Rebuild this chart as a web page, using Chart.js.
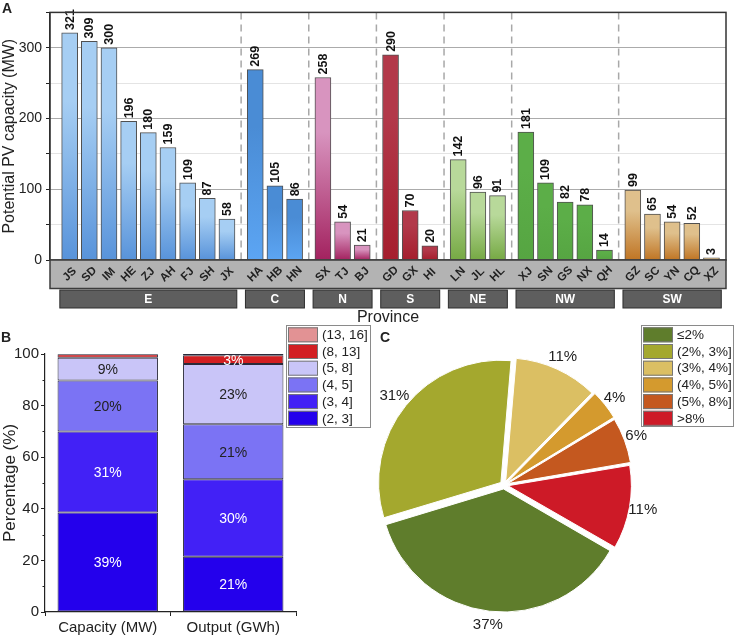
<!DOCTYPE html>
<html>
<head>
<meta charset="utf-8">
<script src="https://cdn.jsdelivr.net/npm/chart.js@4.4.0/dist/chart.umd.min.js"></script>
<style>
  html, body { margin: 0; padding: 0; background: #fff; }
  body { width: 736px; height: 635px; position: relative; overflow: hidden; }
  canvas { position: absolute; }
  #chartA { left: 0; top: 0; z-index: 2; }
  #chartB { left: 0; top: 320px; }
  #chartC { left: 372px; top: 320px; }
</style>
</head>
<body>
<canvas id="chartA" width="736" height="330"></canvas>
<canvas id="chartB" width="372" height="315"></canvas>
<canvas id="chartC" width="364" height="315"></canvas>
<script>
// ---- data ----
const provinces = ['JS','SD','IM','HE','ZJ','AH','FJ','SH','JX','HA','HB','HN','SX','TJ','BJ',
  'GD','GX','HI','LN','JL','HL','XJ','SN','GS','NX','QH','GZ','SC','YN','CQ','XZ'];
const capacityMW = [321,309,300,196,180,159,109,87,58,269,105,86,258,54,21,
  290,70,20,142,96,91,181,109,82,78,14,99,65,54,52,3];
const regions = ['E','C','N','S','NE','NW','SW'];
const regionSizes = [9,3,3,3,3,5,5];
const yTicksA = [0, 100, 200, 300];

const stackCategories = ['Capacity (MW)', 'Output (GWh)'];
const sizeBins = ['(2, 3]', '(3, 4]', '(4, 5]', '(5, 8]', '(8, 13]', '(13, 16]'];
const capacityShare = [38.6, 31.4, 19.7, 8.8, 1.4, 0.1];
const outputShare = [21.4, 30.1, 21.3, 23.3, 3.4, 0.5];
const yTicksB = [0, 20, 40, 60, 80, 100];

const pieBands = ['≤2%', '(2%, 3%]', '(3%, 4%]', '(4%, 5%]', '(5%, 8%]', '>8%'];
const pieShares = [37, 31, 11, 4, 6, 11];

// ---- styles ----
Chart.defaults.font.family = '"Liberation Sans", Arial, sans-serif';
Chart.defaults.color = '#222';
Chart.defaults.animation = false;

const regionGrad = [
  ['#a6cef3', '#5893da'],
  ['#4a8cd5', '#5ca5f3'],
  ['#d894bf', '#a3225f'],
  ['#b2394a', '#a51e2d'],
  ['#b8d99a', '#76a944'],
  ['#5cae48', '#56a542'],
  ['#dfc08c', '#c07524']
];
const binColors = ['#2400ec', '#4221f6', '#7b73f4', '#c9c5f8', '#d21f22', '#e29294'];
const binText = ['#fff', '#fff', '#222', '#222', '#fff', '#fff'];
const pieColors = ['#5f7d2c', '#a4a82e', '#dbbf63', '#d49a2e', '#c4581f', '#cd1a27'];
const PIE_OFFSET = 16; // chart.js moves a slice by offset/4

// region index per province, and x position with a gap between regions
const regionOf = [];
regionSizes.forEach((n, g) => { for (let k = 0; k < n; k++) regionOf.push(g); });
const GAP = 0.44;
const xPos = provinces.map((_, i) => i + regionOf[i] * GAP);

function legendBox(ctx, x, y, w, h, names, colors) {
  ctx.save();
  ctx.fillStyle = '#fff';
  ctx.fillRect(x, y, w, h);
  ctx.strokeStyle = '#8a8a8a';
  ctx.lineWidth = 1;
  ctx.strokeRect(x + 0.5, y + 0.5, w, h);
  ctx.font = '13.5px "Liberation Sans", Arial, sans-serif';
  ctx.textAlign = 'left';
  ctx.textBaseline = 'middle';
  names.forEach((name, k) => {
    const sy = y + 2.3 + k * 16.7;
    ctx.fillStyle = colors[k];
    ctx.fillRect(x + 2, sy, 30, 15);
    ctx.strokeStyle = '#777';
    ctx.strokeRect(x + 2.5, sy + 0.5, 29, 14);
    ctx.fillStyle = '#222';
    ctx.fillText(name, x + 36, sy + 8);
  });
  ctx.restore();
}

// ---- A: capacity by province ----
const panelA = {
  id: 'panelA',
  beforeDatasetsDraw(chart) {
    const { ctx, chartArea, scales } = chart;
    ctx.save();
    ctx.strokeStyle = '#a8a8a8';
    ctx.lineWidth = 1.5;
    ctx.setLineDash([7, 5]);
    let start = 0;
    regionSizes.slice(0, -1).forEach(n => {
      const last = start + n - 1;
      const x = scales.x.getPixelForValue((xPos[last] + xPos[last + 1]) / 2);
      ctx.beginPath();
      ctx.moveTo(x, chartArea.top);
      ctx.lineTo(x, chartArea.bottom);
      ctx.stroke();
      start += n;
    });
    ctx.restore();
  },
  afterDatasetsDraw(chart) {
    const { ctx, chartArea, scales } = chart;
    const bars = chart.getDatasetMeta(0).data;
    ctx.save();
    // value labels
    ctx.fillStyle = '#111';
    ctx.font = 'bold 12.5px "Liberation Sans", Arial, sans-serif';
    ctx.textAlign = 'left';
    ctx.textBaseline = 'middle';
    bars.forEach((el, i) => {
      ctx.save();
      ctx.translate(el.x + 0.5, el.y - 3);
      ctx.rotate(-Math.PI / 2);
      ctx.fillText(String(capacityMW[i]), 0, 0);
      ctx.restore();
    });
    // frame
    ctx.strokeStyle = '#333';
    ctx.lineWidth = 1.5;
    ctx.strokeRect(chartArea.left, chartArea.top, chartArea.right - chartArea.left, chartArea.bottom - chartArea.top);
    // axis band
    const bandTop = chartArea.bottom, bandH = 28.5;
    ctx.fillStyle = '#b3b3b3';
    ctx.fillRect(chartArea.left, bandTop, chartArea.right - chartArea.left, bandH);
    ctx.strokeStyle = '#3c3c3c';
    ctx.lineWidth = 1.5;
    ctx.strokeRect(chartArea.left, bandTop, chartArea.right - chartArea.left, bandH);
    ctx.fillStyle = '#222';
    ctx.font = 'bold 11.5px "Liberation Sans", Arial, sans-serif';
    ctx.textAlign = 'center';
    bars.forEach((el, i) => {
      ctx.save();
      ctx.translate(el.x, bandTop + bandH / 2);
      ctx.rotate(-Math.PI / 4);
      ctx.fillText(provinces[i], 0, 0);
      ctx.restore();
    });
    // region boxes
    let start = 0;
    ctx.font = 'bold 12px "Liberation Sans", Arial, sans-serif';
    regionSizes.forEach((n, g) => {
      const l = scales.x.getPixelForValue(xPos[start] - 0.5);
      const r = scales.x.getPixelForValue(xPos[start + n - 1] + 0.5);
      ctx.fillStyle = '#5e5e5e';
      ctx.fillRect(l, 290, r - l, 18);
      ctx.strokeStyle = '#2e2e2e';
      ctx.lineWidth = 1;
      ctx.strokeRect(l, 290, r - l, 18);
      ctx.fillStyle = '#fff';
      ctx.fillText(regions[g], (l + r) / 2, 299.5);
      start += n;
    });
    // titles
    ctx.fillStyle = '#222';
    ctx.font = '16px "Liberation Sans", Arial, sans-serif';
    ctx.fillText('Province', (chartArea.left + chartArea.right) / 2, 318);
    ctx.font = 'bold 14px "Liberation Sans", Arial, sans-serif';
    ctx.textAlign = 'left';
    ctx.textBaseline = 'top';
    ctx.fillText('A', 2, 2);
    ctx.restore();
  }
};

new Chart(document.getElementById('chartA'), {
  type: 'bar',
  data: {
    datasets: [{
      data: xPos.map((x, i) => ({ x: x, y: capacityMW[i] })),
      barThickness: 16,
      borderWidth: 1,
      borderColor: '#505050',
      backgroundColor: (c) => {
        const chart = c.chart;
        const g = regionGrad[regionOf[c.dataIndex]] || regionGrad[0];
        if (!chart.chartArea || c.type !== 'data') return g[1];
        const yTop = chart.scales.y.getPixelForValue(c.raw.y);
        const yBot = chart.scales.y.getPixelForValue(0);
        const grad = chart.ctx.createLinearGradient(0, yTop, 0, yBot);
        grad.addColorStop(0, g[0]);
        grad.addColorStop(0.3, g[0]);
        grad.addColorStop(1, g[1]);
        return grad;
      }
    }]
  },
  options: {
    responsive: false,
    layout: { padding: { top: 3, right: 10, bottom: 70, left: 0 } },
    plugins: { legend: { display: false }, tooltip: { enabled: false } },
    scales: {
      x: { type: 'linear', display: false, min: -1, max: xPos[xPos.length - 1] + 0.74, offset: false },
      y: {
        min: 0, max: 350,
        ticks: {
          stepSize: 50, padding: 4, font: { size: 14 }, color: '#222',
          callback: v => (yTicksA.includes(v) ? v : '')
        },
        grid: {
          color: c => (c.tick && c.tick.value % 100 === 0 ? '#ababab' : '#e4e4e4'),
          tickColor: '#222', tickLength: 4
        },
        border: { color: '#222', width: 1.2 },
        title: { display: true, text: 'Potential PV capacity (MW)', font: { size: 16 }, color: '#222', padding: { top: 0, bottom: 0 } },
        afterFit: s => { s.width = 50; }
      }
    }
  },
  plugins: [panelA]
});

// ---- B: stacked shares ----
const panelB = {
  id: 'panelB',
  afterDatasetsDraw(chart) {
    const { ctx, scales, chartArea } = chart;
    ctx.save();
    ctx.font = '14px "Liberation Sans", Arial, sans-serif';
    ctx.textAlign = 'center';
    ctx.textBaseline = 'middle';
    chart.data.datasets.forEach((ds, i) => {
      chart.getDatasetMeta(i).data.forEach((el, j) => {
        const v = ds.data[j];
        if (v < 2.5) return;
        ctx.fillStyle = binText[i];
        ctx.fillText(Math.round(v) + '%', el.x, (el.y + el.base) / 2 + 1);
      });
    });
    // minor ticks
    ctx.strokeStyle = '#222';
    ctx.lineWidth = 1;
    [10, 30, 50, 70, 90].forEach(v => {
      const y = Math.round(scales.y.getPixelForValue(v)) + 0.5;
      ctx.beginPath();
      ctx.moveTo(chartArea.left - 2.5, y);
      ctx.lineTo(chartArea.left, y);
      ctx.stroke();
    });
    ctx.restore();
  },
  afterDraw(chart) {
    const ctx = chart.ctx;
    legendBox(ctx, 286, 5, 84, 102, sizeBins.slice().reverse(), binColors.slice().reverse());
    ctx.save();
    ctx.fillStyle = '#222';
    ctx.font = 'bold 14px "Liberation Sans", Arial, sans-serif';
    ctx.textBaseline = 'top';
    ctx.fillText('B', 1, 11);
    ctx.restore();
  }
};

const shareSeries = sizeBins.map((_, i) => [capacityShare[i], outputShare[i]]);

new Chart(document.getElementById('chartB'), {
  type: 'bar',
  data: {
    labels: stackCategories,
    datasets: sizeBins.map((name, i) => ({
      label: name,
      data: shareSeries[i],
      backgroundColor: binColors[i],
      borderColor: '#2a2a3a',
      borderWidth: 1,
      borderSkipped: false,
      barPercentage: 0.8,
      categoryPercentage: 1.0
    }))
  },
  options: {
    responsive: false,
    layout: { padding: { top: 34, right: 76, bottom: 0, left: 0 } },
    plugins: { legend: { display: false }, tooltip: { enabled: false } },
    scales: {
      x: {
        stacked: true,
        ticks: { font: { size: 15 }, color: '#222', padding: 3 },
        grid: { drawOnChartArea: false, color: '#222', tickLength: 4 },
        border: { color: '#222', width: 1.2 },
        afterFit: s => { s.height = 23; }
      },
      y: {
        stacked: true, min: 0, max: 100,
        ticks: { stepSize: 20, font: { size: 15 }, color: '#222', padding: 2,
          callback: v => (yTicksB.includes(v) ? v : '') },
        grid: { drawOnChartArea: false, color: '#222', tickLength: 4 },
        border: { color: '#222', width: 1.2 },
        title: { display: true, text: 'Percentage (%)', font: { size: 17 }, color: '#222', padding: { top: 0, bottom: 0 } },
        afterFit: s => { s.width = 45; }
      }
    }
  },
  plugins: [panelB]
});

// ---- C: pie ----
const panelC = {
  id: 'panelC',
  afterDatasetsDraw(chart) {
    const { ctx } = chart;
    ctx.save();
    ctx.fillStyle = '#222';
    ctx.font = '15px "Liberation Sans", Arial, sans-serif';
    ctx.textAlign = 'center';
    ctx.textBaseline = 'middle';
    chart.getDatasetMeta(0).data.forEach((arc, i) => {
      const p = arc.getProps(['x', 'y', 'startAngle', 'endAngle', 'outerRadius'], true);
      const mid = (p.startAngle + p.endAngle) / 2;
      const r = p.outerRadius + arc.options.offset / 4 + 15;
      ctx.fillText(pieShares[i] + '%', p.x + Math.cos(mid) * r, p.y + Math.sin(mid) * r);
    });
    ctx.restore();
  },
  afterDraw(chart) {
    const ctx = chart.ctx;
    legendBox(ctx, 269, 5, 92, 101, pieBands, pieColors);
    ctx.save();
    ctx.fillStyle = '#222';
    ctx.font = 'bold 14px "Liberation Sans", Arial, sans-serif';
    ctx.textBaseline = 'top';
    ctx.fillText('C', 8, 11);
    ctx.restore();
  }
};

new Chart(document.getElementById('chartC'), {
  type: 'pie',
  data: {
    labels: pieBands,
    datasets: [{
      data: pieShares,
      backgroundColor: pieColors,
      borderColor: '#ffffff',
      borderWidth: 1,
      offset: PIE_OFFSET
    }]
  },
  options: {
    responsive: false,
    rotation: 120,
    radius: 122,
    layout: { padding: { left: 1, top: 34, right: 101, bottom: 19 } },
    plugins: { legend: { display: false }, tooltip: { enabled: false } }
  },
  plugins: [panelC]
});
</script>
</body>
</html>
